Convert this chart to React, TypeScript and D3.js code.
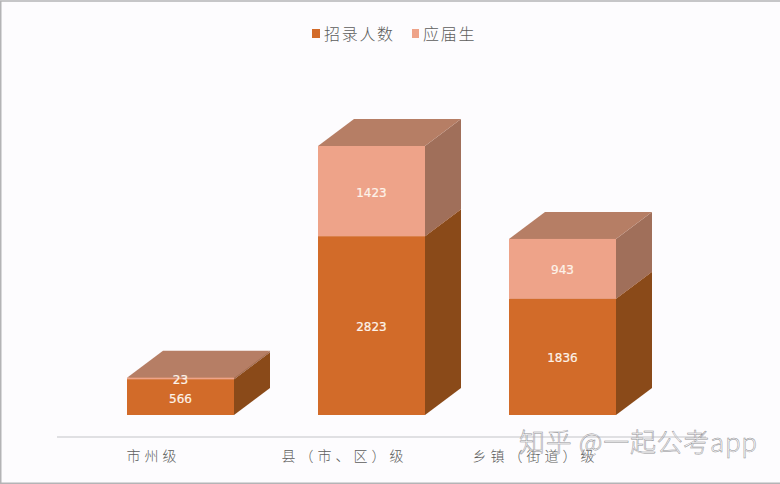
import React from 'react';
import * as d3 from 'd3';

const categories = ['市州级', '县（市、区）级', '乡镇（街道）级'];
const seriesNames = ['招录人数', '应届生'];
const hired = [566, 2823, 1836];
const fresh = [23, 1423, 943];

const width = 780;
const height = 484;
const baseline = 415;
const depthX = 36;
const depthY = 27;

const cnFont = '"Noto Sans CJK SC", "Noto Sans", sans-serif';

const palette = [
  { front: '#d26b29', top: '#c98152', side: '#8a4a19' },
  { front: '#eea389', top: '#b67e65', side: '#a06f5a' },
];

const xScale = d3.scaleBand<string>()
  .domain(categories)
  .range([127, 616])
  .paddingInner(84 / 191)
  .paddingOuter(0);

const yScale = d3.scaleLinear().domain([0, 4246]).range([baseline, 146]);

const rows = categories.map((c, i) => ({ category: c, hired: hired[i], fresh: fresh[i] }));
const stacked = d3.stack<any>().keys(['hired', 'fresh'])(rows);

const poly = d3.line<[number, number]>().curve(d3.curveLinearClosed);

const App = () => {
  const bw = xScale.bandwidth();
  return (
    <svg width={width} height={height} style={{ position: 'absolute', left: 0, top: 0 }}>
      <rect x={0} y={0} width={width} height={height} fill="#fdfcfe" />
      <path d={`M0.75,${height} V1 H${width}`} fill="none" stroke="#b4b4b6" strokeWidth={1.5} />
      <line x1={0} x2={width} y1={483.2} y2={483.2} stroke="#b4b4b6" strokeWidth={1.5} />

      {/* legend */}
      <g fontFamily={cnFont} fontSize={16} fill="#5c5c5c" fontWeight={300}>
        <rect x={312} y={29} width={8} height={9} fill={palette[0].front} />
        <text x={324} y={40} letterSpacing={1.7}>{seriesNames[0]}</text>
        <rect x={412} y={29} width={7} height={9} fill={palette[1].front} />
        <text x={423} y={40} letterSpacing={1.7}>{seriesNames[1]}</text>
      </g>

      {/* axis line */}
      <line x1={57} x2={706} y1={437} y2={437} stroke="#c4c4c8" strokeWidth={1.2} />

      {/* stacked 3d bars */}
      {stacked.map((layer, s) => (
        <g key={s}>
          {layer.map((d, i) => {
            const x0 = xScale(categories[i]) as number;
            const x1 = x0 + bw;
            const yTop = yScale(d[1]);
            const yBot = yScale(d[0]);
            return (
              <g key={i}>
                <path
                  d={poly([[x1, yTop], [x1 + depthX, yTop - depthY], [x1 + depthX, yBot - depthY], [x1, yBot]]) as string}
                  fill={palette[s].side}
                />
                <path
                  d={poly([[x0, yTop], [x0 + depthX, yTop - depthY], [x1 + depthX, yTop - depthY], [x1, yTop]]) as string}
                  fill={palette[s].top}
                />
                <rect x={x0} y={yTop} width={bw} height={yBot - yTop} fill={palette[s].front} />
              </g>
            );
          })}
        </g>
      ))}

      {/* value labels */}
      <g
        fontFamily='"DejaVu Sans", sans-serif'
        fontSize={12}
        fill="#fdf3ea"
        stroke="#fdf3ea"
        strokeWidth={0.2}
        textAnchor="middle"
      >
        {stacked.map((layer, s) =>
          layer.map((d, i) => {
            const cx = (xScale(categories[i]) as number) + bw / 2;
            const small = d[1] - d[0] < 100;
            const cy = small ? yScale(d[1]) + 2 : (yScale(d[0]) + yScale(d[1])) / 2 + 1;
            return (
              <text key={`${s}-${i}`} x={cx} y={cy + 4.5}>
                {s === 0 ? hired[i] : fresh[i]}
              </text>
            );
          })
        )}
      </g>

      {/* category labels, sitting left of the bars like the source */}
      <g fontFamily={cnFont} fontSize={14} fill="#5c5c5c" fontWeight={300} textAnchor="middle">
        {categories.map(c => (
          <text
            key={c}
            x={(xScale(c) as number) + bw / 2 - 27}
            y={461}
            letterSpacing={4}
          >
            {c}
          </text>
        ))}
      </g>

      {/* watermark */}
      <text
        x={519}
        y={452}
        fontFamily={cnFont}
        fontSize={26}
        fontWeight={300}
        letterSpacing={0.7}
        fill="#ffffff"
        fillOpacity={0.6}
        stroke="#8f8f93"
        strokeWidth={0.5}
      >
        知乎 @一起公考app
      </text>
    </svg>
  );
};

export default App;
